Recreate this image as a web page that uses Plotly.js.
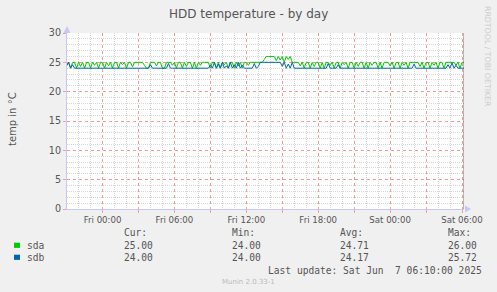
<!DOCTYPE html>
<html>
<head>
<meta charset="utf-8">
<script src="https://cdn.plot.ly/plotly-3.0.1.min.js"></script>
<style>html,body{margin:0;padding:0;background:#F0F0F0;}#chart{width:497px;height:292px;}</style>
</head>
<body>
<div id="chart"></div>
<script>
// 10-minute samples starting Thu 2025-06-05 21:00
const startTime = '2025-06-05T21:00:00';
const stepMinutes = 10;
const sda = [
 24.5,25,24,25,25,24,25,24.3,25,24,
 25,25,24,25,24.5,25,24,25,25,24,
 25,24.4,25,24,25,25,24,25,24.6,25,
 24,25,25,24.2,25,25,25,25,25,24.5,
 24,24,25,25,25,24.4,25,25,24,24,
 25,25,25,24.5,25,24,25,25,24,25,
 24.3,25,25,24,25,24,25,24.5,25,25,
 25,25,24,25,25,24,25,24,25,24.6,
 25,24,25,25,24,25,24.4,25,24,25,
 25,24.5,25,25,25,25,25,25,25,25.5,
 26,26,26,26,26,25.3,26,25.4,26,25,
 26,25.5,26,25,25,25,25,24.4,25,24,
 25,25,24,25,24.3,25,25,24,25,24,
 25,25,24.5,25,24,25,25,24,25,24.6,
 25,24,25,25,24,25,24.3,25,25,24,
 25,24,25,24.5,25,25,24,25,24,25,
 25,25,24.4,25,24,25,25,24,25,24.5,
 25,24,25,25,25,25,25,24.3,25,24,
 25,25,24,25,24.5,25,24,25,25,24,
 25,25,25,25,25,24.5,25,24,25,25
];
const sdb = [
 24.4,25,24,24.6,24,24,24,24,24,24,
 24,24,24,24,24,24,24,24,24,24,
 24,24,24,24,24,24,24,24,24,24,
 24,24,24,24,24,24,24,24,24,24,
 24,24,24.6,24,24,24,24,24,24,24,
 24,24.8,24,24,24,24,24,24,24,24,
 24,24,24,24,24,24,24,24,24,24,
 24,24,24.5,24,25,24,24.7,24,25,24,
 24.4,24,25,24,24.6,24,25,24,24.5,24,
 24,24,24,24,24.8,24,24.3,25,25,25,
 25,25,25,25,25,25,25,25,24.3,25,
 24,24.7,24,25,24,24,24,24,24,24,
 24,24,24,24,24,24,24,24,24,24,
 24,24.8,24,24,24,24,24.6,24,24,24,
 24,24,24,24,24,24,24,24,24,24,
 24,24,24,24,24,24,24,24,24,24,
 24,24,24,24,24,24,24,24,24,24,
 24,24,24,24,24.7,24,24,24,24,24,
 24,24,24,24,24,24,24,24,24,24,
 24,24.6,24,24.9,24,24.5,24,24,24,24
];
const seriesNames = ['sda', 'sdb'];
const seriesColors = ['#00CC00', '#0066B3'];
const curVals = ['25.00', '24.00'];
const minVals = ['24.00', '24.00'];
const avgVals = ['24.71', '24.17'];
const maxVals = ['26.00', '25.72'];
const tickTimes = ['2025-06-06 00:00','2025-06-06 03:00','2025-06-06 06:00','2025-06-06 09:00','2025-06-06 12:00','2025-06-06 15:00','2025-06-06 18:00','2025-06-06 21:00','2025-06-07 00:00','2025-06-07 03:00','2025-06-07 06:00'];
const tickLabels = ['Fri 00:00','','Fri 06:00','','Fri 12:00','','Fri 18:00','','Sat 00:00','','Sat 06:00'];

function fmt(d){
  const p = n => String(n).padStart(2,'0');
  return d.getFullYear()+'-'+p(d.getMonth()+1)+'-'+p(d.getDate())+' '+p(d.getHours())+':'+p(d.getMinutes());
}
const t0 = new Date(startTime);
const times = sda.map((_, i) => fmt(new Date(t0.getTime() + i*stepMinutes*60000)));

// minor grid positions (hourly / every 1 degree), skipping where major lines are
const xMinor = [];
for (let h = 0; h <= 34; h++) {
  if (h % 3 !== 0) xMinor.push(fmt(new Date(t0.getTime() + h*3600000)));
}
const yMinor = [];
for (let v = 1; v < 30; v++) if (v % 5 !== 0) yMinor.push(v);

const traces = [sda, sdb].map((vals, k) => ({
  x: times, y: vals, type: 'scatter', mode: 'lines', name: seriesNames[k],
  line: {color: seriesColors[k], width: 1}, showlegend: false
}));

// pixel helpers for plot area: left 67, right 464, top 33, bottom 209
const L = 67, R = 464, T = 33, B = 209;
const px = x => (x - L) / (R - L);
const py = y => (B - y) / (B - T);

const mono = {family: 'DejaVu Sans Mono', size: 9.6, color: '#555'};
const ann = [];
function txt(x, y, text, font, xanchor, extra){
  ann.push(Object.assign({x: px(x), y: py(y), xref: 'paper', yref: 'paper', text: text, showarrow: false,
    xanchor: xanchor || 'left', yanchor: 'middle', font: font, borderpad: 0}, extra || {}));
}
txt(248, 14, 'HDD temperature - by day', {family: 'DejaVu Sans', size: 12, color: '#555'}, 'center');
txt(12, 119, 'temp in °C', {family: 'DejaVu Sans', size: 10, color: '#555'}, 'center', {textangle: -90});
txt(488, 57, 'RRDTOOL / TOBI OETIKER', {family: 'DejaVu Sans', size: 7.8, color: '#CDCDCD'}, 'center', {textangle: 90});
txt(122.5, 233, 'Cur:', mono);
txt(231, 233, 'Min:', mono);
txt(339, 233, 'Avg:', mono);
txt(447, 233, 'Max:', mono);
const rowY = [245.3, 257.3];
const shapes = [];
seriesNames.forEach((n, k) => {
  txt(26, rowY[k], n, mono);
  txt(122.5, rowY[k], curVals[k], mono);
  txt(231, rowY[k], minVals[k], mono);
  txt(339, rowY[k], avgVals[k], mono);
  txt(447, rowY[k], maxVals[k], mono);
  shapes.push({type: 'rect', xref: 'paper', yref: 'paper', x0: px(14), x1: px(20), y0: py(rowY[k]+2.6), y1: py(rowY[k]-2.6),
    fillcolor: seriesColors[k], line: {width: 0}});
});
txt(483, 270, 'Last update: Sat Jun \u00A07 06:10:00 2025', mono, 'right');
txt(248, 282, 'Munin 2.0.33-1', {family: 'DejaVu Sans', size: 7, color: '#BBBBBB'}, 'center');

// axis arrows
shapes.push({type: 'path', xref: 'paper', yref: 'paper', xsizemode: 'pixel', ysizemode: 'pixel', xanchor: 0, yanchor: 1,
  path: 'M -3.5 0 L 3.5 0 L 0 7 Z', fillcolor: '#C8C8F6', line: {width: 0}});
shapes.push({type: 'path', xref: 'paper', yref: 'paper', xsizemode: 'pixel', ysizemode: 'pixel', xanchor: 1, yanchor: 0,
  path: 'M 1 -3.5 L 1 3.5 L 7 0 Z', fillcolor: '#C8C8F6', line: {width: 0}});
// now line
shapes.push({type: 'line', xref: 'x', yref: 'paper', x0: times[times.length-1], x1: times[times.length-1], y0: 0, y1: 1,
  line: {color: '#7A6A6A', width: 1}});

const layout = {
  width: 497, height: 292,
  margin: {l: L, r: 497 - R, t: T, b: 292 - B, pad: 0},
  paper_bgcolor: '#F0F0F0', plot_bgcolor: '#FFFFFF',
  showlegend: false,
  xaxis: {
    type: 'date', range: ['2025-06-05 21:02', '2025-06-07 06:10'],
    tickmode: 'array', tickvals: tickTimes, ticktext: tickLabels,
    showgrid: true, gridcolor: '#F49A9A', griddash: 'dot', gridwidth: 1,
    minor: {tickmode: 'array', tickvals: xMinor, showgrid: true, gridcolor: '#D6D6D6', griddash: '1px,1px', gridwidth: 1},
    ticks: 'outside', ticklen: 3, tickcolor: '#F0A0A0', tickwidth: 1,
    showline: true, linecolor: '#C8C8F6', linewidth: 1, zeroline: false,
    tickfont: {family: 'DejaVu Sans', size: 8.6, color: '#555'}, fixedrange: true
  },
  yaxis: {
    range: [0, 30], tickmode: 'linear', tick0: 0, dtick: 5,
    showgrid: true, gridcolor: '#F49A9A', griddash: 'dot', gridwidth: 1,
    minor: {tickmode: 'array', tickvals: yMinor, showgrid: true, gridcolor: '#D6D6D6', griddash: '1px,1px', gridwidth: 1},
    ticks: 'outside', ticklen: 3, tickcolor: '#F0A0A0', tickwidth: 1,
    showline: true, linecolor: '#C8C8F6', linewidth: 1, zeroline: false,
    tickfont: {family: 'DejaVu Sans', size: 9.6, color: '#555'}, fixedrange: true
  },
  annotations: ann,
  shapes: shapes
};
Plotly.newPlot('chart', traces, layout, {staticPlot: true, displayModeBar: false});
</script>
</body>
</html>
